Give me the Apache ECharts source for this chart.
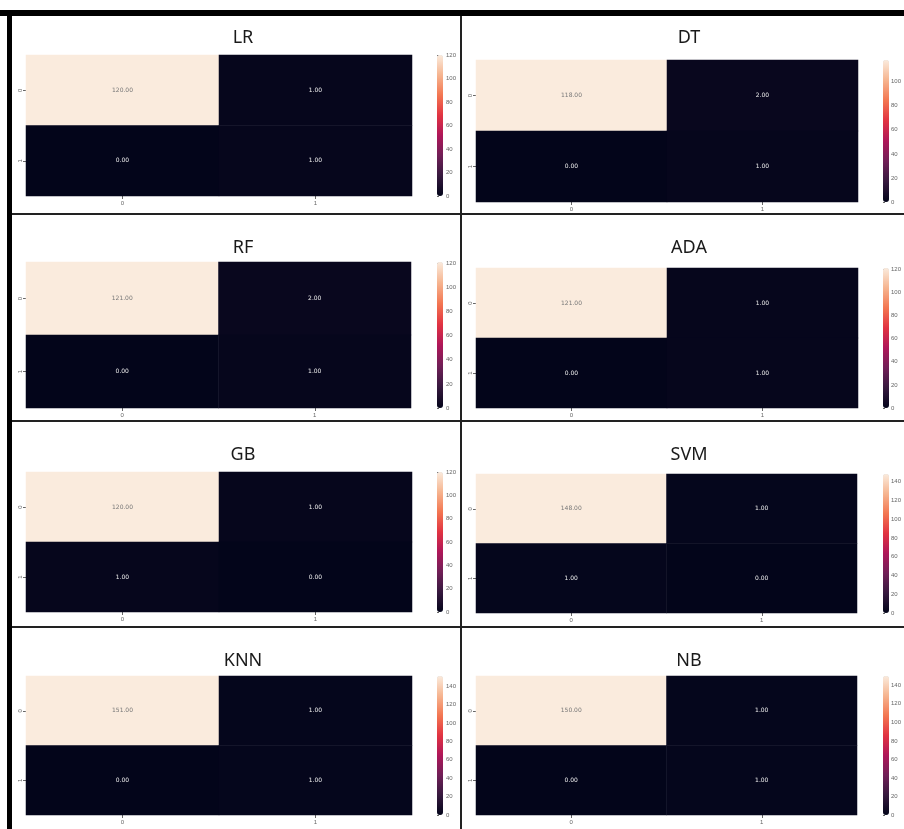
<!DOCTYPE html>
<html>
<head>
<meta charset="utf-8">
<script src="https://cdn.jsdelivr.net/npm/echarts@6/dist/echarts.min.js"></script>
<style>
  html, body { margin: 0; padding: 0; background: #fff; }
  #chart_container { width: 904px; height: 829px; }
</style>
</head>
<body>
<div id="chart_container"></div>
<script>
// confusion matrices of eight classifiers, rows = true label, cols = predicted

var models = ['LR', 'DT', 'RF', 'ADA', 'GB', 'SVM', 'KNN', 'NB'];
var labels = ['0', '1'];

var cmLR  = [[120, 1], [0, 1]];
var cmDT  = [[118, 2], [0, 1]];
var cmRF  = [[121, 2], [0, 1]];
var cmADA = [[121, 1], [0, 1]];
var cmGB  = [[120, 1], [1, 0]];
var cmSVM = [[148, 1], [1, 0]];
var cmKNN = [[151, 1], [0, 1]];
var cmNB  = [[150, 1], [0, 1]];

var matrices = [cmLR, cmDT, cmRF, cmADA, cmGB, cmSVM, cmKNN, cmNB];

// layout of the panels (left, top, width, height of the heatmap)
var heatRects = [
    [26, 55, 386, 141], [476, 60, 382, 142],
    [26, 262, 385, 146], [476, 268, 382, 140],
    [26, 472, 386, 140], [476, 474, 381, 139],
    [26, 676, 386, 139], [476, 676, 381, 139]
];
var titleTops = [24, 234, 441, 647];

// seaborn "rocket"
var rocket = ['#03051a', '#36193e', '#701f57', '#ae1759', '#e13342', '#f37651', '#f6b48f', '#faebdd'];

var chartDom = document.getElementById('chart_container');
var myChart = echarts.init(chartDom);

var grids = [], xAxes = [], yAxes = [], series = [], visualMaps = [], titles = [];

matrices.forEach(function (cm, i) {
    var r = heatRects[i];
    var col = i % 2;
    var row = Math.floor(i / 2);
    var vmax = Math.max(cm[0][0], cm[0][1], cm[1][0], cm[1][1]);
    var cbLeft = col == 0 ? 437 : 883;

    titles.push({
        text: models[i],
        left: col == 0 ? 238 : 684,
        top: titleTops[row],
        textAlign: 'center',
        textStyle: { fontFamily: 'Noto Sans', fontSize: 18, fontWeight: 'normal', color: '#1a1a1a' }
    });

    // heatmap grid
    grids.push({ left: r[0], top: r[1], width: r[2], height: r[3] });
    xAxes.push({
        type: 'category', data: labels, gridIndex: i,
        axisLine: { show: false },
        axisTick: { show: true, length: 3, alignWithLabel: true, lineStyle: { color: '#666' } },
        axisLabel: { fontSize: 6, color: '#666', margin: 4 },
        splitArea: { show: false }
    });
    yAxes.push({
        type: 'category', data: labels, gridIndex: i, inverse: true,
        axisLine: { show: false },
        axisTick: { show: true, length: 3, alignWithLabel: true, lineStyle: { color: '#666' } },
        axisLabel: { fontSize: 6, color: '#666', rotate: 90, margin: 3 }
    });

    var data = [];
    for (var y = 0; y < 2; y++) {
        for (var x = 0; x < 2; x++) {
            var v = cm[y][x];
            data.push({
                value: [x, y, v],
                label: { color: v > vmax / 2 ? '#777' : '#eee' }
            });
        }
    }
    series.push({
        type: 'heatmap', xAxisIndex: i, yAxisIndex: i,
        data: data,
        label: {
            show: true, fontSize: 6, fontFamily: 'DejaVu Sans',
            formatter: function (p) { return p.value[2].toFixed(2); }
        },
        emphasis: { disabled: true }
    });

    visualMaps.push({
        type: 'continuous', seriesIndex: i, dimension: 2,
        min: 0, max: vmax,
        calculable: false, hoverLink: false, realtime: false,
        itemWidth: 6, itemHeight: r[3],
        handleSize: 0, indicatorSize: 0,
        handleStyle: { opacity: 0 }, indicatorStyle: { opacity: 0 },
        left: cbLeft, top: r[1],
        padding: 0,
        text: ['', ''],
        inRange: { color: rocket }
    });
});

// colorbar tick axes, one small grid next to each colorbar
matrices.forEach(function (cm, i) {
    var r = heatRects[i];
    var col = i % 2;
    var vmax = Math.max(cm[0][0], cm[0][1], cm[1][0], cm[1][1]);
    var gi = grids.length;
    grids.push({ left: col == 0 ? 437 : 883, top: r[1], width: 6, height: r[3] });
    xAxes.push({ type: 'value', gridIndex: gi, show: false });
    yAxes.push({
        type: 'value', gridIndex: gi, min: 0, max: vmax, interval: 20,
        position: 'right',
        axisLine: { show: false },
        axisTick: { show: true, length: 2, lineStyle: { color: '#666' } },
        axisLabel: { fontSize: 6, color: '#666', margin: 3, showMaxLabel: vmax % 20 == 0 },
        splitLine: { show: false }
    });
});

// panel frame lines
var frame = [
    { type: 'rect', shape: { x: 0, y: 10, width: 904, height: 6 }, style: { fill: '#000' } },
    { type: 'rect', shape: { x: 7, y: 10, width: 5, height: 819 }, style: { fill: '#000' } },
    { type: 'rect', shape: { x: 460, y: 16, width: 2, height: 813 }, style: { fill: '#222' } },
    { type: 'rect', shape: { x: 12, y: 213, width: 892, height: 2 }, style: { fill: '#222' } },
    { type: 'rect', shape: { x: 12, y: 420, width: 892, height: 2 }, style: { fill: '#222' } },
    { type: 'rect', shape: { x: 12, y: 626, width: 892, height: 2 }, style: { fill: '#222' } }
];

var opt1 = {
    backgroundColor: '#fff',
    animation: false,
    title: titles,
    grid: grids,
    xAxis: xAxes,
    yAxis: yAxes,
    visualMap: visualMaps,
    series: series,
    graphic: frame
};

myChart.setOption(opt1);
</script>
</body>
</html>
